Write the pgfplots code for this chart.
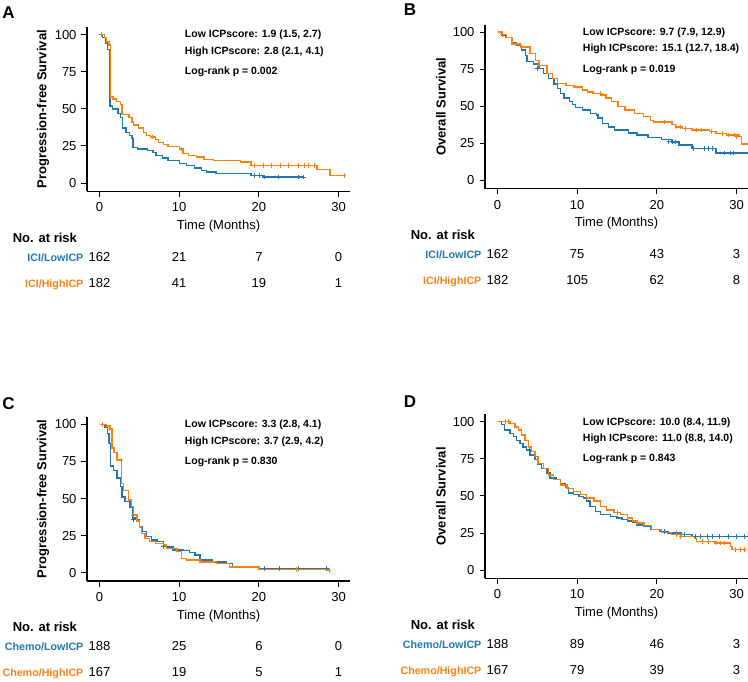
\documentclass[border=0pt]{standalone}
\usepackage{fontspec}
\setmainfont{Liberation Sans}
\usepackage{pgfplots}
\pgfplotsset{compat=1.18}
\definecolor{kmblue}{HTML}{1F77B4}
\definecolor{kmorange}{HTML}{FF7F0E}
\newcommand\tfont{\fontsize{13}{15}\selectfont}
\newcommand\afont{\fontsize{10.5}{12}\selectfont\bfseries}
\newcommand\rfont{\fontsize{10.7}{12}\selectfont\bfseries}
\pgfplotsset{
  km/.style={
    scale only axis, width=263pt, height=164pt,
    xmin=-1.57, xmax=31.43, ymin=-5.5, ymax=105,
    axis x line*=bottom, axis y line*=left,
    xtick={0,10,20,30}, ytick={0,25,50,75,100},
    tick align=outside, major tick length=5.5pt,
    axis line style={line width=1.1pt, black},
    tick style={line width=0.9pt, black},
    tick label style={font=\tfont},
    xticklabel style={yshift=-2.5pt},
    yticklabel style={xshift=-1.5pt},
    /pgf/number format/assume math mode=true,
    xlabel={Time (Months)},
    xlabel style={font=\tfont, at={(axis description cs:0.5,-0.212)}, anchor=center, inner sep=0pt},
    ylabel style={font=\tfont\bfseries, at={(axis description cs:-0.1673,0.5)}, anchor=center, inner sep=0pt},
    clip=false,
  },
  cb/.style={kmblue, line width=1.4pt, const plot},
  co/.style={kmorange, line width=1.4pt, const plot},
  mb/.style={kmblue, only marks, mark=+, mark size=2.3pt, mark options={line width=0.8pt}},
  mo/.style={kmorange, only marks, mark=+, mark size=2.3pt, mark options={line width=0.8pt}},
}
\newcommand\annot[3]{%
  \node[anchor=west, inner sep=0pt, font=\afont] at (axis cs:10.7,99.6) {Low ICPscore: #1};
  \node[anchor=west, inner sep=0pt, font=\afont] at (axis cs:10.7,88.6) {High ICPscore: #2};
  \node[anchor=west, inner sep=0pt, font=\afont] at (axis cs:10.7,74.8) {Log-rank p = #3};
}
\newcommand\riskrow[7]{%
  \node[anchor=mid east, inner sep=0pt, text=#2, font=\rfont] at (axis cs:-2,#1) {#3};
  \node[anchor=mid, inner sep=0pt, font=\tfont] at (axis cs:0,#1) {#4};
  \node[anchor=mid, inner sep=0pt, font=\tfont] at (axis cs:10,#1) {#5};
  \node[anchor=mid, inner sep=0pt, font=\tfont] at (axis cs:20,#1) {#6};
  \node[anchor=mid, inner sep=0pt, font=\tfont] at (axis cs:30,#1) {#7};
}
\newcommand\riskhead{%
  \node[anchor=mid west, inner sep=0pt, font=\tfont\bfseries] at (axis cs:-10.9,-38.0) {No. at risk};
}
\begin{document}
\begin{tikzpicture}
\useasboundingbox (0,0) rectangle (748pt,-682pt);
\node[inner sep=0pt, font=\fontsize{17}{20}\selectfont\bfseries] at (8.5pt,-12.5pt) {A};
\node[inner sep=0pt, font=\fontsize{17}{20}\selectfont\bfseries] at (410pt,-10pt) {B};
\node[inner sep=0pt, font=\fontsize{17}{20}\selectfont\bfseries] at (8.5pt,-403.5pt) {C};
\node[inner sep=0pt, font=\fontsize{17}{20}\selectfont\bfseries] at (410pt,-402pt) {D};

% Panel A
\begin{axis}[km, at={(87pt,-191.2pt)}, anchor=south west, ylabel={Progression-free Survival}]
\addplot[cb] coordinates {(0,100)(0.4,98)(0.8,94)(1.0,90)(1.3,52)(1.6,50)(2.3,47)(2.6,44)(2.9,37)(3.3,34)(3.8,32)(4.1,30)(4.2,24)(4.8,23)(6.0,22)(6.7,20.5)(7.1,18.5)(7.9,17)(8.6,15)(10.0,13)(10.9,12)(11.9,10)(12.8,8.5)(13.4,7.4)(14.6,6.3)(19.0,5.2)(20.5,4.0)(25.6,4.0)};
\addplot[co] coordinates {(0,100)(0.6,98)(0.9,95)(1.2,93)(1.4,58)(1.7,56.5)(2.1,55)(2.6,53)(2.8,46)(3.7,44)(4.1,41)(4.3,39)(4.9,37)(5.5,34)(5.9,32)(6.4,31)(7.0,29.5)(7.4,27.5)(8.0,26)(8.6,24.5)(10.0,23)(10.5,20)(11.2,18.5)(12.2,17.5)(13.1,16)(14.3,15)(17.7,14.2)(19.0,12)(27.3,9)(28.9,5)(30.7,5)};
\addplot[mb] coordinates {(19.4,5.2)(20.0,5.2)(20.7,4)(22.4,4)(24.9,4)(25.6,4)};
\addplot[mo] coordinates {(0.2,100)(6.6,31)(10.3,23)(19.4,12)(20.6,12)(21.6,12)(22.7,12)(23.7,12)(24.9,12)(25.7,12)(26.2,12)(27.0,12)(30.7,5)};
\annot{1.9 (1.5, 2.7)}{2.8 (2.1, 4.1)}{0.002}
\riskhead
\riskrow{-50.8}{kmblue}{ICI/LowICP}{162}{21}{7}{0}
\riskrow{-68.3}{kmorange}{ICI/HighICP}{182}{41}{19}{1}
\end{axis}

% Panel B
\begin{axis}[km, at={(485pt,-188.6pt)}, anchor=south west, ylabel={Overall Survival}]
\addplot[cb] coordinates {(0,100)(0.5,98)(1.0,96.5)(1.8,93)(2.4,91)(3.0,88)(3.5,84)(3.7,80)(4.5,78.5)(5.2,75.5)(5.8,72)(6.4,68.5)(7.1,65)(7.5,62)(7.9,58.5)(8.35,55.5)(9.0,53)(9.4,51)(9.8,49)(10.7,47.5)(11.7,45)(12.4,44)(12.6,42)(13.2,38.5)(13.9,36)(14.7,34)(16.4,32)(17.5,30.5)(18.9,29)(20.6,27.5)(21.9,26)(22.75,24)(24.4,21.5)(27.4,18.5)(31.4,18.5)};
\addplot[co] coordinates {(0,100)(0.6,98.5)(1.1,96.5)(1.8,92)(2.85,90)(4.1,85.5)(4.75,81)(5.2,77.5)(6.2,72)(6.9,68.5)(7.5,65.5)(8.6,64)(9.6,63)(10.7,61)(11.3,59.5)(12.0,58.5)(13.0,57.5)(13.6,55.5)(14.3,53)(15.1,50)(16.0,47.5)(17.2,45)(18.3,43)(19.2,40.5)(19.6,39.5)(21.9,37.5)(22.3,36)(23.2,35)(24.4,34)(26.6,33)(27.4,31.5)(28.7,30.5)(30.4,29.5)(30.6,24.5)(31.4,24.5)};
\addplot[mb] coordinates {(5.0,75.5)(21.5,26)(22.0,26)(22.3,26)(24.6,21.5)(26.0,21.5)(26.5,21.5)(27.0,21.5)(28.5,18.5)(29.2,18.5)(29.6,18.5)};
\addplot[mo] coordinates {(0.6,98.5)(12.9,58.5)(21.0,39.5)(22.5,36)(23.0,36)(23.6,35)(25.0,34)(25.6,34)(26.8,33)(28.2,31.5)(29.0,30.5)(29.7,30.5)(30.0,29.5)};
\annot{9.7 (7.9, 12.9)}{15.1 (12.7, 18.4)}{0.019}
\riskhead
\riskrow{-50.8}{kmblue}{ICI/LowICP}{162}{75}{43}{3}
\riskrow{-68.3}{kmorange}{ICI/HighICP}{182}{105}{62}{8}
\end{axis}

% Panel C
\begin{axis}[km, at={(87pt,-581pt)}, anchor=south west, ylabel={Progression-free Survival}]
\addplot[cb] coordinates {(0,100)(0.3,100)(0.7,98)(1.0,94)(1.2,87)(1.4,72)(1.75,69)(2.2,64)(2.6,58)(2.8,51)(3.2,48)(3.85,44)(4.2,37)(4.45,36)(5.0,31)(5.4,28)(5.9,24.5)(6.5,22)(7.2,21)(8.0,18.7)(8.4,17.5)(9.2,15.3)(10.5,15)(11.3,13.7)(12.0,12)(12.6,8.6)(14.2,7.4)(15.9,6.3)(16.7,4)(20,3)(28.8,3)};
\addplot[co] coordinates {(0,100)(0.9,99)(1.3,97)(1.55,84)(1.8,81)(2.2,76)(2.75,60)(3.0,55.5)(3.6,49)(4.0,44.5)(4.25,39)(4.7,35)(5.0,31)(5.3,26.6)(5.7,23)(6.3,21)(7.0,19.8)(8.0,18.7)(8.4,16.4)(9.7,14.2)(10.3,9.7)(10.9,8.6)(12.6,7.4)(14.7,6.3)(16.3,4)(20,2.3)(28.8,1.5)};
\addplot[mb] coordinates {(4.3,36)(8.0,17.5)(20.7,3)(22.6,3)(25.0,3)(28.5,3)};
\addplot[mo] coordinates {(0.4,100)(1.2,97)(2.7,76)(4.3,39)(24.7,2.3)(28.8,1.5)};
\annot{3.3 (2.8, 4.1)}{3.7 (2.9, 4.2)}{0.830}
\riskhead
\riskrow{-50.8}{kmblue}{Chemo/LowICP}{188}{25}{6}{0}
\riskrow{-68.3}{kmorange}{Chemo/HighICP}{167}{19}{5}{1}
\end{axis}

% Panel D
\begin{axis}[km, at={(485pt,-578.3pt)}, anchor=south west, ylabel={Overall Survival}]
\addplot[cb] coordinates {(0,100)(0.5,98)(0.9,94.5)(1.55,92)(2.0,90)(2.4,87.5)(2.8,85.5)(3.2,83)(3.65,81)(4.1,77.5)(4.7,74.5)(5.1,71)(5.5,68.5)(6.2,65.5)(6.6,62)(7.4,61)(7.9,58.5)(8.5,55.5)(8.9,52)(9.5,51)(10.2,49.5)(10.8,48.5)(11.2,46.5)(11.6,43)(12.3,39.5)(12.9,37.5)(14.2,36)(15.0,35)(15.6,34)(16.3,33)(16.9,32)(17.5,30.5)(18.4,29.5)(19.2,27.5)(20.4,26)(21.4,25)(23.1,24)(24.4,22.5)(31.4,22.5)};
\addplot[co] coordinates {(0,100)(1.55,99)(2.2,96.5)(2.6,94.5)(3.0,91)(3.45,87.5)(3.9,83)(4.3,80)(4.7,76.5)(5.1,72)(5.75,68.5)(6.4,64)(7.0,61)(7.9,57.5)(8.7,55)(9.5,53)(10.4,51)(11.2,48.5)(12.1,46.5)(12.9,43)(13.7,40.5)(14.6,39)(15.4,37.5)(16.3,35)(16.9,33)(17.5,31.8)(18.4,30)(19.3,27.5)(20.6,25.5)(21.8,24)(23.1,22.7)(24.8,21.5)(25.0,19.3)(27.3,18.2)(29.2,16)(29.4,14)(31.3,14)};
\addplot[mb] coordinates {(4.0,81)(21.0,26)(22.5,25)(23.5,24)(24.8,22.5)(25.5,22.5)(26.3,22.5)(27.0,22.5)(27.8,22.5)(29.0,22.5)(30.0,22.5)(31.0,22.5)};
\addplot[mo] coordinates {(1.0,100)(1.4,100)(15.0,39)(22.5,24)(23.0,22.7)(25.7,19.3)(26.4,19.3)(27.5,18.2)(28.0,18.2)(28.5,18.2)(29.8,14)(30.5,14)(31.0,14)};
\annot{10.0 (8.4, 11.9)}{11.0 (8.8, 14.0)}{0.843}
\riskhead
\riskrow{-50.8}{kmblue}{Chemo/LowICP}{188}{89}{46}{3}
\riskrow{-68.3}{kmorange}{Chemo/HighICP}{167}{79}{39}{3}
\end{axis}
\end{tikzpicture}
\end{document}
